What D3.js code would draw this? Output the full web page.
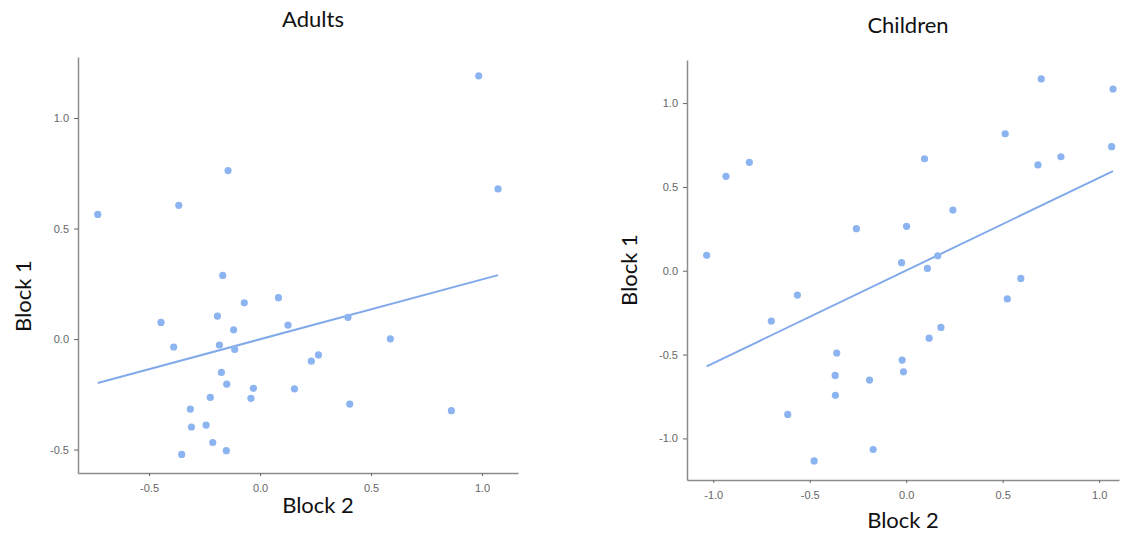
<!DOCTYPE html>
<html>
<head>
<meta charset="utf-8">
<script src="https://cdn.jsdelivr.net/npm/d3@7"></script>
<style>
  body { margin: 0; background: #fff; }
  .tick text { font-family: "Liberation Sans", Arial, sans-serif; font-size: 11px; fill: #666; }
  .tick line { stroke: #666; }
  .domain { stroke: #8c8c8c; stroke-width: 1.5; }
  .lab { font-family: Lato, "Open Sans", sans-serif; font-size: 22px; fill: #111; }
</style>
</head>
<body>
<div id="chart"></div>
<script>
// Adults: Block 2 (x) vs Block 1 (y)
const adultsX = [-0.731, -0.366, -0.144, -0.168, -0.446, -0.192, -0.071, 0.083, -0.119, -0.389,
  -0.183, -0.114, -0.174, -0.150, -0.030, -0.041, -0.224, -0.314, -0.309, -0.243, -0.213, -0.152,
  -0.353, 0.985, 1.072, 0.126, 0.396, 0.587, 0.231, 0.263, 0.155, 0.404, 0.862];
const adultsY = [0.564, 0.605, 0.762, 0.288, 0.075, 0.104, 0.164, 0.187, 0.042, -0.036,
  -0.027, -0.047, -0.151, -0.204, -0.223, -0.268, -0.264, -0.317, -0.398, -0.389, -0.468, -0.505,
  -0.522, 1.191, 0.679, 0.063, 0.098, 0.001, -0.100, -0.072, -0.225, -0.294, -0.324];

// Children
const childX = [-1.034, -0.934, -0.813, -0.258, -0.564, -0.699, -0.360, -0.368, -0.367, -0.190,
  -0.614, -0.477, -0.171, 0.700, 1.072, 0.513, 0.095, 1.065, 0.683, 0.802, 0.242, 0.002, 0.164,
  -0.024, 0.110, 0.594, 0.524, 0.180, 0.119, -0.021, -0.014];
const childY = [0.092, 0.563, 0.647, 0.251, -0.145, -0.300, -0.491, -0.624, -0.743, -0.652,
  -0.857, -1.134, -1.066, 1.144, 1.084, 0.817, 0.668, 0.740, 0.631, 0.680, 0.362, 0.265, 0.089,
  0.048, 0.014, -0.046, -0.168, -0.338, -0.402, -0.533, -0.603];

// fitted lines [intercept, slope]
const adultsFit = [-0.001, 0.2706];
const childFit = [0.0017, 0.553];

const ticksAdultX = [-0.5, 0.0, 0.5, 1.0];
const ticksAdultY = [-0.5, 0.0, 0.5, 1.0];
const ticksChildX = [-1.0, -0.5, 0.0, 0.5, 1.0];
const ticksChildY = [-1.0, -0.5, 0.0, 0.5, 1.0];

const fmt = d => d.toFixed(1);

const svg = d3.select("#chart").append("svg")
  .attr("width", 1123).attr("height", 536);

function panel(opt) {
  const x = d3.scaleLinear().domain(opt.xd).range(opt.xr);
  const y = d3.scaleLinear().domain(opt.yd).range(opt.yr);
  const g = svg.append("g");

  g.append("g")
    .attr("transform", `translate(0,${opt.yr[0]})`)
    .call(d3.axisBottom(x).tickValues(opt.xt).tickFormat(fmt).tickSize(3).tickSizeOuter(0).tickPadding(8));
  g.append("g")
    .attr("transform", `translate(${opt.xr[0]},0)`)
    .call(d3.axisLeft(y).tickValues(opt.yt).tickFormat(fmt).tickSize(4).tickSizeOuter(0).tickPadding(5));

  const pts = opt.px.map((v, i) => [v, opt.py[i]]);
  const ext = d3.extent(opt.px);
  const line = d3.line().x(d => x(d)).y(d => y(opt.fit[0] + opt.fit[1] * d));
  g.append("path")
    .attr("d", line(ext))
    .attr("fill", "none")
    .attr("stroke", "#82aaea")
    .attr("stroke-width", 2);

  g.selectAll("circle").data(pts).enter().append("circle")
    .attr("cx", d => x(d[0]))
    .attr("cy", d => y(d[1]))
    .attr("r", 3.6)
    .attr("fill", "#8cb4f0");

  g.append("text").attr("class", "lab")
    .attr("x", opt.title[0]).attr("y", opt.title[1])
    .attr("text-anchor", "middle").text(opt.title[2]);
  g.append("text").attr("class", "lab")
    .attr("x", opt.xl[0]).attr("y", opt.xl[1])
    .attr("text-anchor", "middle").text("Block 2");
  g.append("text").attr("class", "lab")
    .attr("transform", `translate(${opt.yl[0]},${opt.yl[1]}) rotate(-90)`)
    .attr("text-anchor", "middle").text("Block 1");
}

panel({
  xd: [-0.82, 1.162], xr: [78, 518],
  yd: [-0.606, 1.276], yr: [473, 57],
  xt: ticksAdultX, yt: ticksAdultY,
  px: adultsX, py: adultsY, fit: adultsFit,
  title: [313, 27, "Adults"], xl: [318, 513], yl: [31, 296]
});

panel({
  xd: [-1.136, 1.103], xr: [687, 1119],
  yd: [-1.248, 1.257], yr: [480, 60],
  xt: ticksChildX, yt: ticksChildY,
  px: childX, py: childY, fit: childFit,
  title: [908, 33, "Children"], xl: [903, 528], yl: [637, 270]
});
</script>
</body>
</html>
